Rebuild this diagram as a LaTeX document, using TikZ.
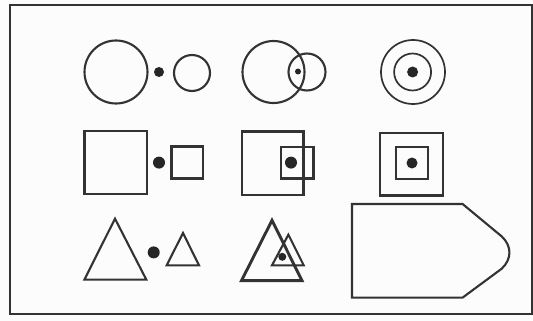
\documentclass[tikz,border=0pt]{standalone}
\begin{document}
\begin{tikzpicture}[x=1pt,y=-1pt,
  ink/.style={draw=black!80,line width=2.1pt},
  thick ink/.style={draw=black!80,line width=2.9pt},
  spot/.style={fill=black!85}]
\useasboundingbox (0,0) rectangle (533,321);
\fill[black!1] (0,0) rectangle (533,321);
% frame
\draw[draw=black!80,line width=2.4pt] (10,5) rectangle (532,314);
% row 1: circles
\draw[ink] (116,72) circle[radius=31.5];
\fill[spot] (159,72) circle[radius=5];
\draw[ink] (192,73) circle[radius=18];
\draw[ink] (273.5,72) circle[radius=31];
\draw[ink] (307,72) circle[radius=18.5];
\fill[spot] (298,71.5) circle[radius=3];
\draw[line width=1.7pt,draw=black!80] (413,72) circle[radius=32];
\draw[line width=1.7pt,draw=black!80] (412.6,72) circle[radius=18.5];
\fill[spot] (412.6,72) circle[radius=5.5];
% row 2: squares
\draw[ink] (84.5,131) rectangle (147,194);
\fill[spot] (159,162.6) circle[radius=6];
\draw[thick ink] (171.5,146.5) rectangle (203,178.5);
\draw[thick ink] (242,131.5) rectangle (303.5,195);
\draw[thick ink] (281,147) rectangle (313.5,178.5);
\fill[spot] (291,162.6) circle[radius=6];
\draw[ink] (380,133) rectangle (443,195.5);
\draw[ink] (395.6,147) rectangle (427.6,179);
\fill[spot] (412,163) circle[radius=5.5];
% row 3: triangles
\draw[ink,line join=miter] (115,218.7) -- (146.3,279.6) -- (84.4,279.6) -- cycle;
\fill[spot] (153.7,252.4) circle[radius=6];
\draw[ink,line join=miter] (183,233) -- (199,265.3) -- (166.7,265.3) -- cycle;
\draw[thick ink,line join=miter] (272,220.4) -- (302,280.6) -- (241.5,280.6) -- cycle;
\draw[ink,line join=miter] (288.4,234.7) -- (303.7,265.3) -- (272,265.3) -- cycle;
\fill[spot] (282.3,256.8) circle[radius=4];
% pentagon
\draw[ink] (352,204) -- (462.6,204) -- (501.7,236.4)
  .. controls (512,246) and (512,259) .. (501.7,268.7)
  -- (462.6,297.6) -- (352,297.6) -- cycle;
\end{tikzpicture}
\end{document}
